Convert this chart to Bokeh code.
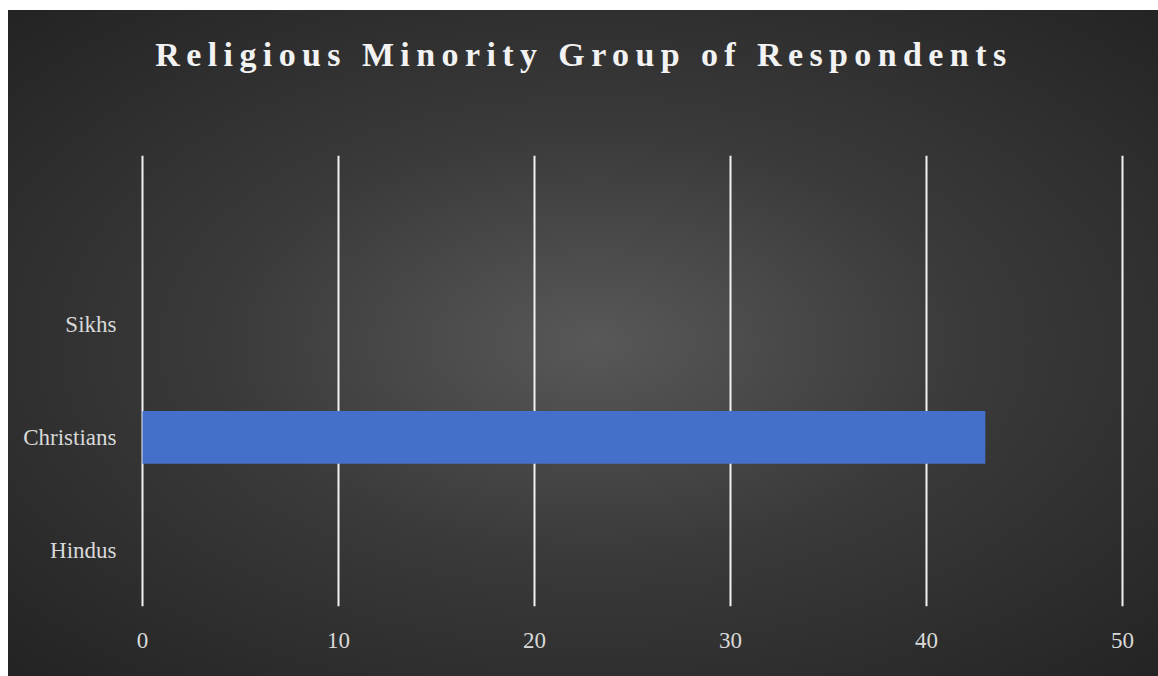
from bokeh.plotting import figure
from bokeh.layouts import column
from bokeh.models import Range1d, FixedTicker, ColumnDataSource
from bokeh.core.properties import value
from bokeh.embed import file_html
from bokeh.resources import INLINE

# ---- data ----
categories = ["Hindus", "Christians", "Sikhs"]
counts = [0, 43, 0]
x_ticks = [0, 10, 20, 30, 40, 50]
title_text = "Religious Minority Group of Respondents"

W, H_TITLE, H_MAIN = 1150, 145, 521

# ---- title figure (letter-spaced title) ----
tf = figure(width=W, height=H_TITLE, output_backend="svg", toolbar_location=None,
            x_range=Range1d(0, 1), y_range=Range1d(0, 1),
            min_border=0, min_border_left=0, min_border_right=0,
            min_border_top=0, min_border_bottom=0)
tf.axis.visible = False
tf.grid.visible = False
tf.outline_line_color = None
tf.background_fill_alpha = 0
tf.border_fill_alpha = 0
tf.text(x=[0.015], y=[0.70], text=[title_text], text_align="left", text_baseline="middle",
        text_font=value("Liberation Serif"), text_font_style="bold",
        text_font_size="34px", text_color="#F2F2F2")
tf.styles = {"letter-spacing": "6.4px"}

# ---- main chart ----
positions = [i + 1 for i in range(len(categories))]
src = ColumnDataSource(dict(y=positions, right=counts, cat=categories))

p = figure(width=W, height=H_MAIN, output_backend="svg", toolbar_location=None,
           x_range=Range1d(-0.1, 50.1), y_range=Range1d(0.5, len(categories) + 1.5),
           min_border_left=132, min_border_right=34, min_border_top=0, min_border_bottom=70)

p.hbar(y="y", right="right", left=0, height=0.47, source=src,
       fill_color="#4470C9", line_color=None)

p.background_fill_alpha = 0
p.border_fill_alpha = 0
p.outline_line_color = None

p.xgrid.ticker = FixedTicker(ticks=x_ticks)
p.xgrid.grid_line_color = "#F2F2F2"
p.xgrid.grid_line_width = 2
p.ygrid.grid_line_color = None

xa = p.xaxis[0]
ya = p.yaxis[0]
xa.ticker = FixedTicker(ticks=x_ticks)
ya.ticker = FixedTicker(ticks=positions)
ya.major_label_overrides = {pos: c for pos, c in zip(positions, categories)}
for ax in (xa, ya):
    ax.axis_line_color = None
    ax.major_tick_line_color = None
    ax.minor_tick_line_color = None
    ax.major_tick_out = 0
    ax.major_tick_in = 0
    ax.major_label_text_font = "Liberation Serif"
    ax.major_label_text_font_size = "23px"
    ax.major_label_text_color = "#D9D9D9"
xa.major_label_standoff = 26
ya.major_label_standoff = 24

layout = column(tf, p, styles={
    "margin-left": "8px", "margin-top": "10px",
    "background": "radial-gradient(ellipse farthest-corner at 51% 50%, #585858 0%, #3a3a3a 45%, #232323 100%)"})

open("out.html", "w").write(file_html(layout, INLINE))
